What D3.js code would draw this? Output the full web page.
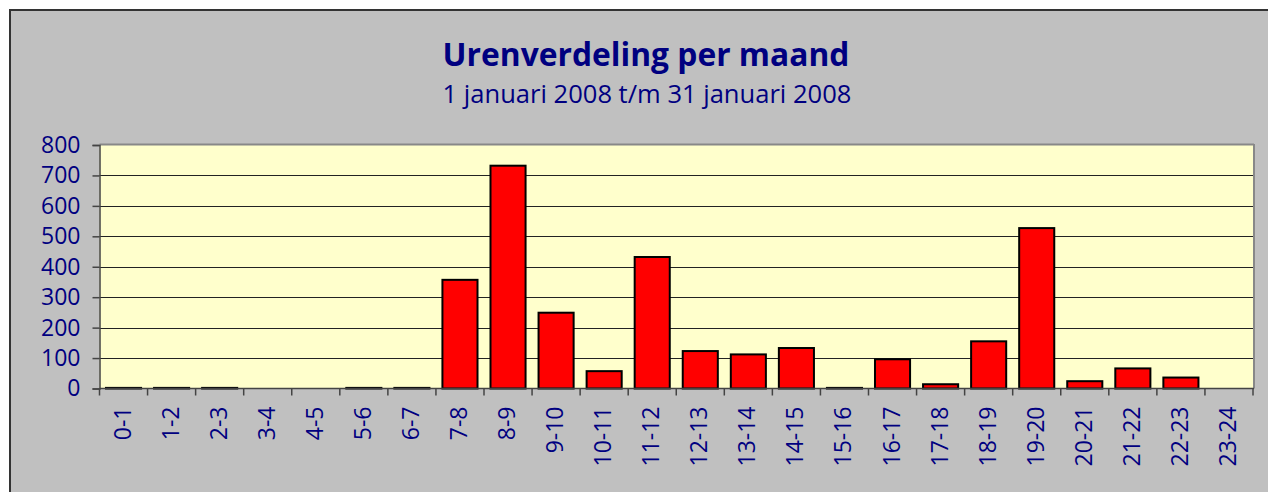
<!DOCTYPE html>
<html><head><meta charset="utf-8">
<script src="https://cdn.jsdelivr.net/npm/d3@7"></script>
<style>html,body{margin:0;padding:0;background:#fff;}svg{display:block;}</style>
</head><body><svg id="chart" width="1268" height="492"></svg>
<script>
const title = "Urenverdeling per maand";
const subtitle = "1 januari 2008 t/m 31 januari 2008";
const categories = ["0-1","1-2","2-3","3-4","4-5","5-6","6-7","7-8","8-9","9-10","10-11","11-12","12-13","13-14","14-15","15-16","16-17","17-18","18-19","19-20","20-21","21-22","22-23","23-24"];
const values = [2,2,2,0,0,2,2,357,732,249,57,432,123,112,133,2,96,14,155,527,24,66,36,0];
const yTicks = [0,100,200,300,400,500,600,700,800];

const svg = d3.select("#chart");
const navy = "#000080";
const font = "'Open Sans', 'Noto Sans', sans-serif";

// outer chart area
svg.append("rect").attr("x",10).attr("y",10).attr("width",1270).attr("height",500)
  .attr("fill","#c0c0c0").attr("stroke","#333").attr("stroke-width",2);

const L = 99.5, T = 145, R = 1253, B = 388.5;
const x = d3.scaleBand().domain(categories).range([L,R]).paddingInner(0.27).paddingOuter(0.135);
const y = d3.scaleLinear().domain([0,800]).range([B,T]);

// plot area
svg.append("rect").attr("x",L).attr("y",T).attr("width",R-L).attr("height",B-T).attr("fill","#ffffcc");
svg.append("line").attr("x1",L).attr("x2",R+1).attr("y1",T-0.5).attr("y2",T-0.5).attr("stroke","#888").attr("stroke-width",2);
svg.append("line").attr("x1",R+1).attr("x2",R+1).attr("y1",T-1).attr("y2",B).attr("stroke","#888").attr("stroke-width",2);

// gridlines
svg.append("g").selectAll("line").data(yTicks.filter(d=>d>0 && d<800)).join("line")
  .attr("x1",L).attr("x2",R).attr("y1",d=>Math.round(y(d))+0.5).attr("y2",d=>Math.round(y(d))+0.5)
  .attr("stroke","#222").attr("stroke-width",1);

// bars
const barData = values.map((v,i)=>({c:categories[i],v}));
svg.append("g").selectAll("rect").data(barData.filter(d=>d.v>0)).join("rect")
  .attr("x",d=>x(d.c)).attr("width",x.bandwidth())
  .attr("y",d=>y(d.v)).attr("height",d=>B-y(d.v))
  .attr("fill","#ff0000").attr("stroke","#000").attr("stroke-width",2);

// y axis
const yAxis = d3.axisLeft(y).tickValues(yTicks).tickSize(7).tickPadding(12).tickFormat(d3.format("d"));
const gy = svg.append("g").attr("transform",`translate(${L},0)`).call(yAxis);
gy.select(".domain").attr("stroke","#444").attr("stroke-width",1.5);
gy.selectAll(".tick line").attr("stroke","#444").attr("stroke-width",1.5);
gy.selectAll(".tick text").attr("fill",navy).style("font-family",font).style("font-size","23px");

// x axis
const boundaries = d3.range(categories.length+1).map(i=>L + i*x.step());
const gx = svg.append("g");
gx.append("line").attr("x1",L).attr("x2",R+1).attr("y1",B).attr("y2",B).attr("stroke","#444").attr("stroke-width",1.5);
gx.selectAll("line.tk").data(boundaries).join("line").attr("class","tk")
  .attr("x1",d=>d).attr("x2",d=>d).attr("y1",B).attr("y2",B+7).attr("stroke","#444").attr("stroke-width",1.5);
gx.selectAll("text.lbl").data(categories).join("text").attr("class","lbl")
  .attr("transform",d=>`translate(${x(d)+x.bandwidth()/2+7},${B+18}) rotate(-90)`)
  .attr("text-anchor","end").attr("fill",navy)
  .style("font-family",font).style("font-size","23px").text(d=>d);

// titles
function fitText(sel, target){
  let fs = parseFloat(sel.style("font-size"));
  const w = sel.node().getComputedTextLength();
  sel.style("font-size",(fs*target/w).toFixed(2)+"px");
}
const t1 = svg.append("text").attr("x",646).attr("y",66).attr("text-anchor","middle")
  .attr("fill",navy).style("font-family",font).style("font-weight","bold").style("font-size","30px").text(title);
fitText(t1,407);
const t2 = svg.append("text").attr("x",647).attr("y",102.5).attr("text-anchor","middle")
  .attr("fill",navy).style("font-family",font).style("font-size","24px").text(subtitle);
fitText(t2,409);
</script></body></html>
